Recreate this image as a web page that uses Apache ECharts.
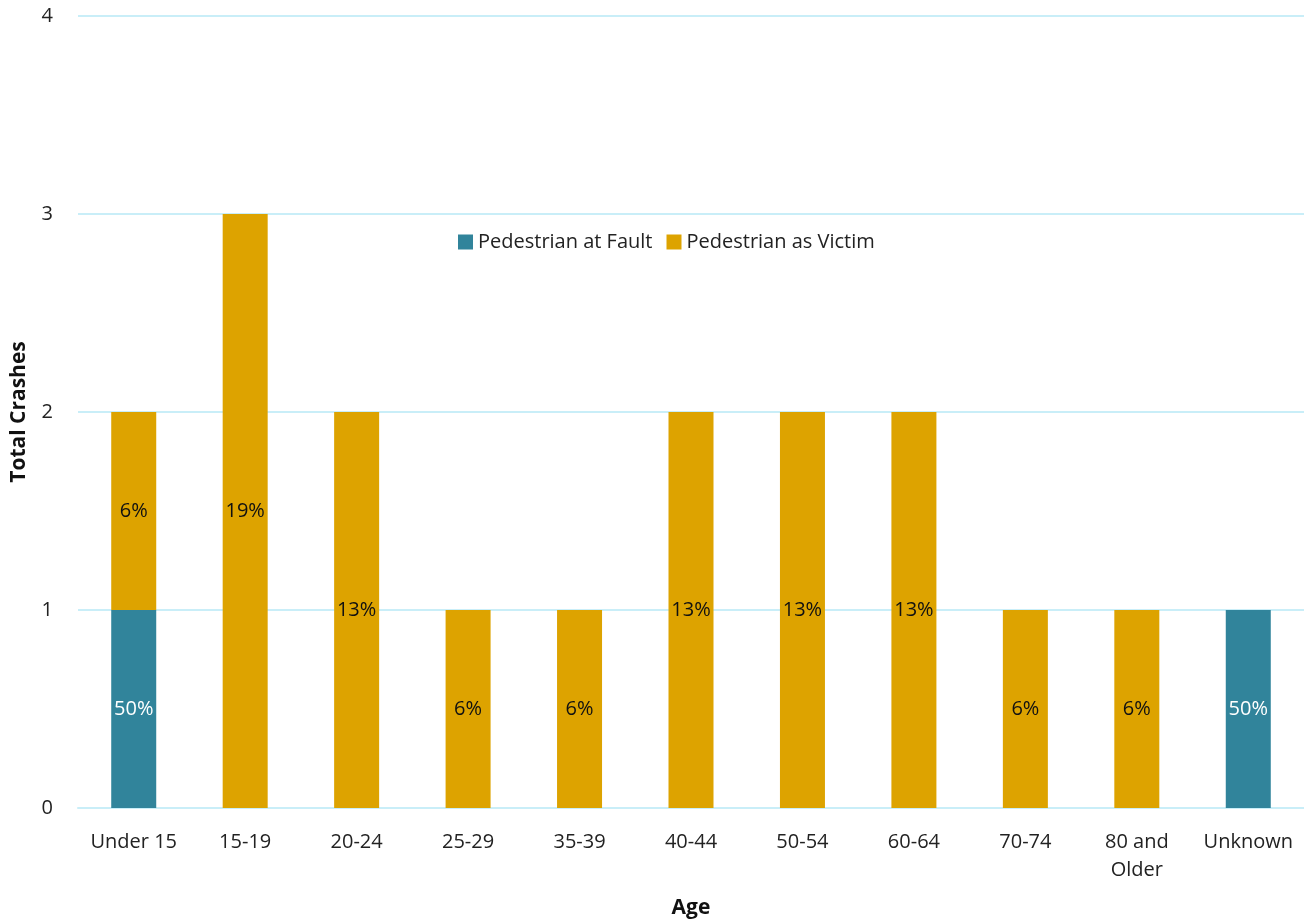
<!DOCTYPE html>
<html><head><meta charset="utf-8">
<script src="https://cdn.jsdelivr.net/npm/echarts@6/dist/echarts.min.js"></script>
<style>html,body{margin:0;padding:0;background:#fff}#c{width:1304px;height:921px}</style>
</head><body><div id="c"></div>
<script>
const categories = ['Under 15','15-19','20-24','25-29','35-39','40-44','50-54','60-64','70-74','80 and\nOlder','Unknown'];
const atFault = [1,0,0,0,0,0,0,0,0,0,1];
const asVictim = [1,3,2,1,1,2,2,2,1,1,0];
const yTicks = [0,1,2,3,4];

const font = '"Open Sans", sans-serif';
const sumF = atFault.reduce((a,b)=>a+b,0);
const sumV = asVictim.reduce((a,b)=>a+b,0);
function pct(v,t){ return v ? Math.round(v/t*100)+'%' : ''; }

const chart = echarts.init(document.getElementById('c'));
chart.setOption({
  animation:false,
  textStyle:{fontFamily:font},
  grid:{left:78,right:0,top:16,bottom:113,containLabel:false,outerBoundsMode:'none'},
  legend:{
    left:453, top:227, itemWidth:15, itemHeight:15, itemGap:14,
    icon:'rect',
    textStyle:{fontFamily:font,fontSize:20,color:'#222'},
    data:['Pedestrian at Fault','Pedestrian as Victim']
  },
  xAxis:{
    type:'category', data:categories,
    axisLine:{lineStyle:{color:'#c9eef8',width:2}},
    axisTick:{show:false},
    axisLabel:{interval:0,fontFamily:font,fontSize:20,color:'#222',margin:20,lineHeight:28},
    name:'Age', nameLocation:'middle', nameGap:90,
    nameTextStyle:{fontFamily:font,fontSize:21,fontWeight:'bold',color:'#111'}
  },
  yAxis:{
    type:'value', min:yTicks[0], max:yTicks[yTicks.length-1], interval:1,
    axisLine:{show:false}, axisTick:{show:false},
    splitLine:{lineStyle:{color:'#c9eef8',width:2}},
    axisLabel:{fontFamily:font,fontSize:20,color:'#222',margin:25},
    name:'Total Crashes', nameLocation:'middle', nameGap:48,
    nameTextStyle:{fontFamily:font,fontSize:21,fontWeight:'bold',color:'#111'}
  },
  series:[
    {name:'Pedestrian at Fault', type:'bar', stack:'s', barWidth:45, data:atFault,
     itemStyle:{color:'#31849b'},
     label:{show:true, position:'inside', color:'#fff', fontFamily:font, fontSize:20,
       formatter:p=>pct(p.value,sumF)}},
    {name:'Pedestrian as Victim', type:'bar', stack:'s', barWidth:45, data:asVictim,
     itemStyle:{color:'#dda300'},
     label:{show:true, position:'inside', color:'#111', fontFamily:font, fontSize:20,
       formatter:p=>pct(p.value,sumV)}}
  ]
});
</script></body></html>
